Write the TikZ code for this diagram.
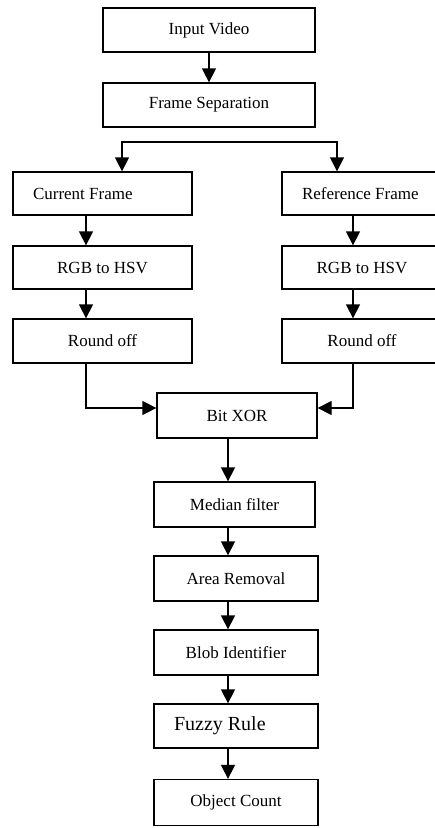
\documentclass[tikz,border=0pt]{standalone}
\usepackage{fontspec}
\setmainfont{Liberation Serif}
\usetikzlibrary{arrows.meta}
\begin{document}
\begin{tikzpicture}[x=1pt, y=-1pt, >={Triangle[width=14pt,length=14pt]},
  box/.style={draw, line width=1.3pt, inner sep=0pt, align=center, font=\fontsize{17}{20}\selectfont},
  lbox/.style={box, align=flush left, inner xsep=20pt},
  arr/.style={line width=1.3pt, ->}]
  \useasboundingbox (0,0) rectangle (435,828);
  \clip (0,0) rectangle (435,828);

  % Top
  \node[box, minimum width=212pt, minimum height=44pt] (in) at (209,30) {Input Video};
  \node[box, minimum width=212pt, minimum height=44pt] (sep) at (209,105) {Frame Separation};
  \draw[arr] (in.south) -- (sep.north);

  % Left branch (current frame)
  \node[lbox, text width=139pt, minimum height=43pt] (cur) at (102.5,193.5) {Current Frame};
  \node[box, minimum width=179pt, minimum height=43pt] (rgbL) at (102.5,267.5) {RGB to HSV};
  \node[box, minimum width=179pt, minimum height=44pt] (rndL) at (102.5,341) {Round off};

  % Right branch (reference frame)
  \node[lbox, text width=120pt, minimum height=43pt] (ref) at (362,193.5) {Reference Frame};
  \node[box, minimum width=160pt, minimum height=43pt] (rgbR) at (362,267.5) {RGB to HSV};
  \node[box, minimum width=160pt, minimum height=44pt] (rndR) at (362,341) {Round off};

  \coordinate (forkL) at (122,142);
  \coordinate (forkR) at (337,142);
  \coordinate (colL) at (86,0);
  \coordinate (colR) at (353,0);
  \draw[line width=1.3pt, <->] (cur.north -| forkL) |- (forkR) -- (ref.north -| forkR);
  \draw[arr] (cur.south -| colL) -- (rgbL.north -| colL);
  \draw[arr] (rgbL.south -| colL) -- (rndL.north -| colL);
  \draw[arr] (ref.south -| colR) -- (rgbR.north -| colR);
  \draw[arr] (rgbR.south -| colR) -- (rndR.north -| colR);

  % Merge and the rest of the chain
  \node[box, minimum width=160pt, minimum height=45pt] (xor) at (237,415.5) {Bit XOR};
  \draw[arr] (rndL.south -| colL) |- ([yshift=7.5pt]xor.west);
  \draw[arr] (rndR.south -| colR) |- ([yshift=7.5pt]xor.east);

  \node[box, minimum width=161pt, minimum height=45pt] (med) at (234.5,504.5) {Median filter};
  \node[box, minimum width=164pt, minimum height=45pt] (area) at (236,578.5) {Area Removal};
  \node[box, minimum width=164pt, minimum height=45pt] (blob) at (236,652.5) {Blob Identifier};
  \node[lbox, text width=124pt, minimum height=44pt, font=\fontsize{20}{24}\selectfont] (fuzzy) at (236,726) {Fuzzy Rule};
  \node[box, minimum width=164pt, minimum height=46pt] (count) at (236,802.5) {Object Count};

  \coordinate (spine) at (228,0);
  \foreach \a/\b in {xor/med, med/area, area/blob, blob/fuzzy, fuzzy/count} {
    \draw[arr] (\a.south -| spine) -- (\b.north -| spine);
  }
\end{tikzpicture}
\end{document}
